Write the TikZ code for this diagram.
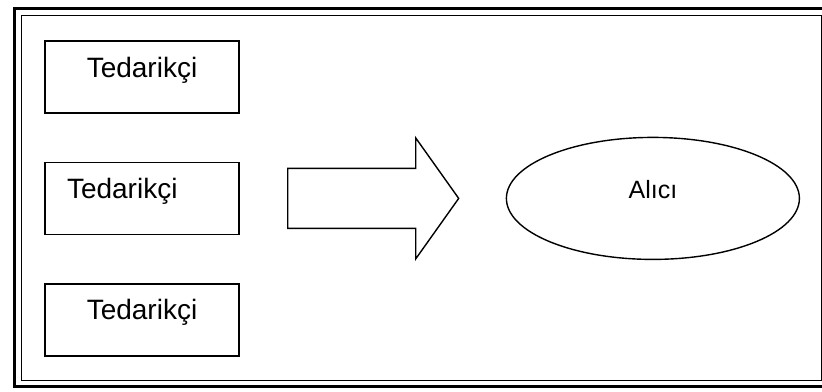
\documentclass[tikz,border=0pt]{standalone}
\usepackage{fontspec}
\setmainfont{Liberation Sans}
\usetikzlibrary{positioning, shapes.geometric}
\tikzset{
    supplier/.style={rectangle, draw, line width=1.4pt, minimum width=194pt, minimum height=72pt, inner sep=0pt, text height=9pt, text depth=9pt, font=\fontsize{28}{33}\selectfont},
    buyer/.style={ellipse, draw, line width=1.4pt, minimum width=293pt, minimum height=122pt, inner sep=0pt, text height=8pt, text depth=8pt, font=\fontsize{25}{30}\selectfont},
    blockarrow/.style={draw, line width=1.4pt, line join=miter},
    outerframe/.style={draw, line width=3pt},
    innerframe/.style={draw, line width=1pt}
}

\begin{document}
\begin{tikzpicture}[x=1pt, y=-1pt]
        	\useasboundingbox (0,0) rectangle (822,391);
        	% cerceve
        	\draw[outerframe] (14,8) rectangle (824,386);
        	\draw[innerframe] (21,15) rectangle (821,380);
        	
        	% tedarikciler
        	\node (s1) [supplier] at (142,77) {Tedarikçi};
        	\node (s2) [supplier, below=48pt of s1, align=left, text width=150pt, inner xsep=22pt] {Tedarikçi};
        	\node (s3) [supplier, below=48pt of s2] {Tedarikçi};
        	
        	% ok
        	\coordinate (tail) at ([xshift=48pt]s2.east);
        	\coordinate [right=171pt of tail] (tip);
        	\draw[blockarrow] (tail) ++(0,-30) -- ++(128,0) -- ++(0,-30.5) -- (tip) -- ++(-43,60.5) -- ++(0,-30.5) -- ++(-128,0) -- cycle;
        	
        	% alici
        	\node (b) [buyer, right=47pt of tip] {Alıcı};
        \end{tikzpicture}
\end{document}
